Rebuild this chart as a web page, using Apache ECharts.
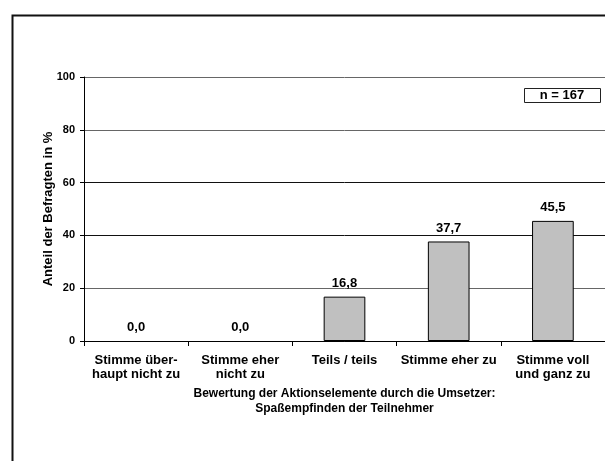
<!DOCTYPE html>
<html>
<head>
<meta charset="utf-8">
<script src="https://cdn.jsdelivr.net/npm/echarts@6/dist/echarts.min.js"></script>
<style>
html,body{margin:0;padding:0;background:#fff;}
#c{width:605px;height:461px;}
</style>
</head>
<body>
<div id="c"></div>
<script>
const categories = ['Stimme über-\nhaupt nicht zu', 'Stimme eher\nnicht zu', 'Teils / teils', 'Stimme eher zu', 'Stimme voll\nund ganz zu'];
const values = [0.0, 0.0, 16.8, 37.7, 45.5];
const yTicks = [0, 20, 40, 60, 80, 100];
const yAxisTitle = 'Anteil der Befragten in %';
const xAxisTitle = 'Bewertung der Aktionselemente durch die Umsetzer:\nSpaßempfinden der Teilnehmer';
const noteText = 'n = 167';

const FONT = 'Liberation Sans, Arial, sans-serif';
const barData = values.map(v => v === 0 ? {value: v, itemStyle: {borderWidth: 0}} : {value: v});
const chart = echarts.init(document.getElementById('c'), null, {renderer: 'canvas'});
chart.setOption({
  animation: false,
  backgroundColor: '#fff',
  grid: {left: 84, top: 77, bottom: 120, right: -4, containLabel: false},
  xAxis: {
    type: 'category',
    data: categories,
    axisLine: {lineStyle: {color: '#000', width: 1}},
    axisTick: {show: true, interval: 0, alignWithLabel: false, length: 5, lineStyle: {color: '#000'}},
    axisLabel: {interval: 0, margin: 12, fontFamily: FONT, fontWeight: 'bold', fontSize: 13, color: '#000', lineHeight: 14},
    name: xAxisTitle,
    nameLocation: 'middle',
    nameGap: 45,
    nameMoveOverlap: false,
    nameTextStyle: {fontFamily: FONT, fontWeight: 'bold', fontSize: 12, color: '#000', lineHeight: 15}
  },
  yAxis: {
    type: 'value',
    min: yTicks[0],
    max: yTicks[yTicks.length - 1],
    interval: yTicks[1] - yTicks[0],
    axisLine: {show: true, lineStyle: {color: '#000', width: 1}},
    axisTick: {show: true, length: 4, lineStyle: {color: '#000'}},
    axisLabel: {margin: 9, fontFamily: FONT, fontWeight: 'bold', fontSize: 11, color: '#000'},
    splitLine: {show: true, lineStyle: {color: ['#000', '#666', '#111', '#111', '#666', '#666'], width: 1}},
    name: yAxisTitle,
    nameLocation: 'middle',
    nameGap: 29,
    nameMoveOverlap: false,
    nameRotate: 90,
    nameTextStyle: {fontFamily: FONT, fontWeight: 'bold', fontSize: 13, color: '#000'}
  },
  series: [{
    type: 'bar',
    data: barData,
    barWidth: '40%',
    itemStyle: {color: '#c0c0c0', borderColor: '#000', borderWidth: 1},
    label: {
      show: true,
      position: 'top',
      distance: 7,
      fontFamily: FONT,
      fontWeight: 'bold',
      fontSize: 13,
      color: '#000',
      formatter: p => p.value.toFixed(1).replace('.', ',')
    }
  }],
  graphic: [
    {type: 'rect', left: 10, top: 13, shape: {width: 600, height: 460}, style: {fill: 'none', stroke: '#111', lineWidth: 2}, z: 10},
    {type: 'rect', left: 524, top: 88, shape: {width: 76, height: 14}, style: {fill: '#fff', stroke: '#222', lineWidth: 1}, z: 10},
    {type: 'text', x: 562, y: 95, style: {text: noteText, font: 'bold 13px ' + FONT, fill: '#000', align: 'center', verticalAlign: 'middle'}, z: 11}
  ]
});
</script>
</body>
</html>
